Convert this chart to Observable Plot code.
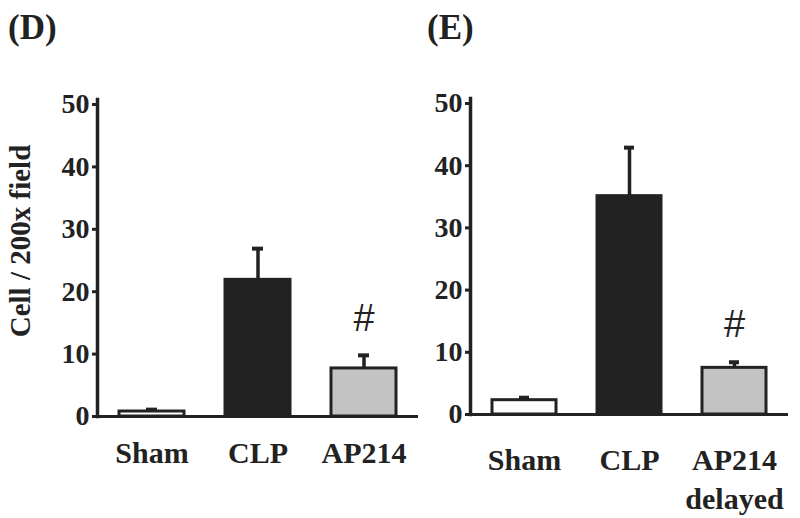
<!DOCTYPE html>
<html>
<head>
<meta charset="utf-8">
<script src="https://cdn.jsdelivr.net/npm/d3@7"></script>
<script src="https://cdn.jsdelivr.net/npm/@observablehq/plot@0.6"></script>
<style>
  html, body { margin: 0; padding: 0; background: #fff; }
  #wrap { display: flex; width: 800px; height: 518px; overflow: hidden; }
  .panel { position: relative; }
  .title { position: absolute; top: 10px; font-family: "Liberation Serif", serif; font-weight: bold; font-size: 35px; line-height: 35px; color: #222; }
  .panel svg { position: absolute; top: 50px; left: 0; }
</style>
</head>
<body>
<div id="wrap">
  <div class="panel" id="panelD" style="width:420px;height:518px"><div class="title" style="left:8px">(D)</div></div>
  <div class="panel" id="panelE" style="width:380px;height:518px"><div class="title" style="left:7px">(E)</div></div>
</div>
<script>
// ---- data ----
const categoriesD = ["Sham", "CLP", "AP214"];
const meansD = [0.8, 21.9, 7.7];
const errorsD = [0.3, 5.0, 2.1];
const markersD = ["", "", "#"];

const categoriesE = ["Sham", "CLP", "AP214 delayed"];
const meansE = [2.3, 35.1, 7.5];
const errorsE = [0.4, 7.8, 0.9];
const markersE = ["", "", "#"];

const yTicks = [0, 10, 20, 30, 40, 50];
const yLabel = "Cell / 200x field";

const ink = "#222";
const serif = "Liberation Serif";

function panel({cats, means, errs, marks, width, marginLeft, marginRight, marginTop, marginBottom, xPad, lineHeight, ylabel}) {
  const idx = cats.map((_, i) => i);
  const marks_ = [
    Plot.ruleX(idx, {x: i => cats[i], y1: i => means[i], y2: i => means[i] + errs[i], stroke: ink, strokeWidth: 3.5}),
    Plot.tickY(idx, {x: i => cats[i], y: i => means[i] + errs[i], stroke: ink, strokeWidth: 4, insetLeft: 27, insetRight: 27}),
    Plot.barY(idx, {x: i => cats[i], y: i => means[i], fill: i => cats[i], stroke: ink, strokeWidth: 3}),
    Plot.ruleY([0], {stroke: ink, strokeWidth: 3}),
    Plot.frame({anchor: "left", stroke: ink, strokeWidth: 3.5}),
    Plot.axisY({ticks: yTicks, tickSize: 5, tickPadding: 3, strokeWidth: 3, fontSize: 28, tickFormat: d3.format("d"), label: null}),
    Plot.axisX({tickSize: 0, tickPadding: xPad, fontSize: 30, lineHeight, tickFormat: d => d.replace(" ", "\n"), label: null}),
    Plot.text(idx, {x: i => cats[i], y: i => means[i] + errs[i], text: i => marks[i], dy: -37, lineAnchor: "middle", fontFamily: "Liberation Sans", fontWeight: "normal", fontSize: 38, fill: ink})
  ];
  if (ylabel) {
    marks_.push(Plot.text([ylabel], {frameAnchor: "left", textAnchor: "middle", rotate: -90, dx: -77, dy: -17, fontSize: 29, fill: ink}));
  }
  return Plot.plot({
    width, height: 468,
    marginLeft, marginRight, marginTop, marginBottom,
    style: {fontFamily: serif, fontWeight: "bold", color: ink, background: "transparent", overflow: "visible"},
    x: {domain: cats, paddingInner: 0.39, paddingOuter: 0.2},
    y: {domain: [0, 50.8]},
    color: {domain: cats, range: ["white", ink, "#c3c3c3"]},
    marks: marks_
  });
}

document.getElementById("panelD").appendChild(panel({
  cats: categoriesD, means: meansD, errs: errorsD, marks: markersD,
  width: 420, marginLeft: 97, marginRight: 2, marginTop: 49, marginBottom: 102, xPad: 19, lineHeight: 1.3, ylabel: yLabel
}));
document.getElementById("panelE").appendChild(panel({
  cats: categoriesE, means: meansE, errs: errorsE, marks: markersE,
  width: 380, marginLeft: 50, marginRight: 12, marginTop: 48, marginBottom: 104, xPad: 28, lineHeight: 1.3, ylabel: null
}));
</script>
</body>
</html>
